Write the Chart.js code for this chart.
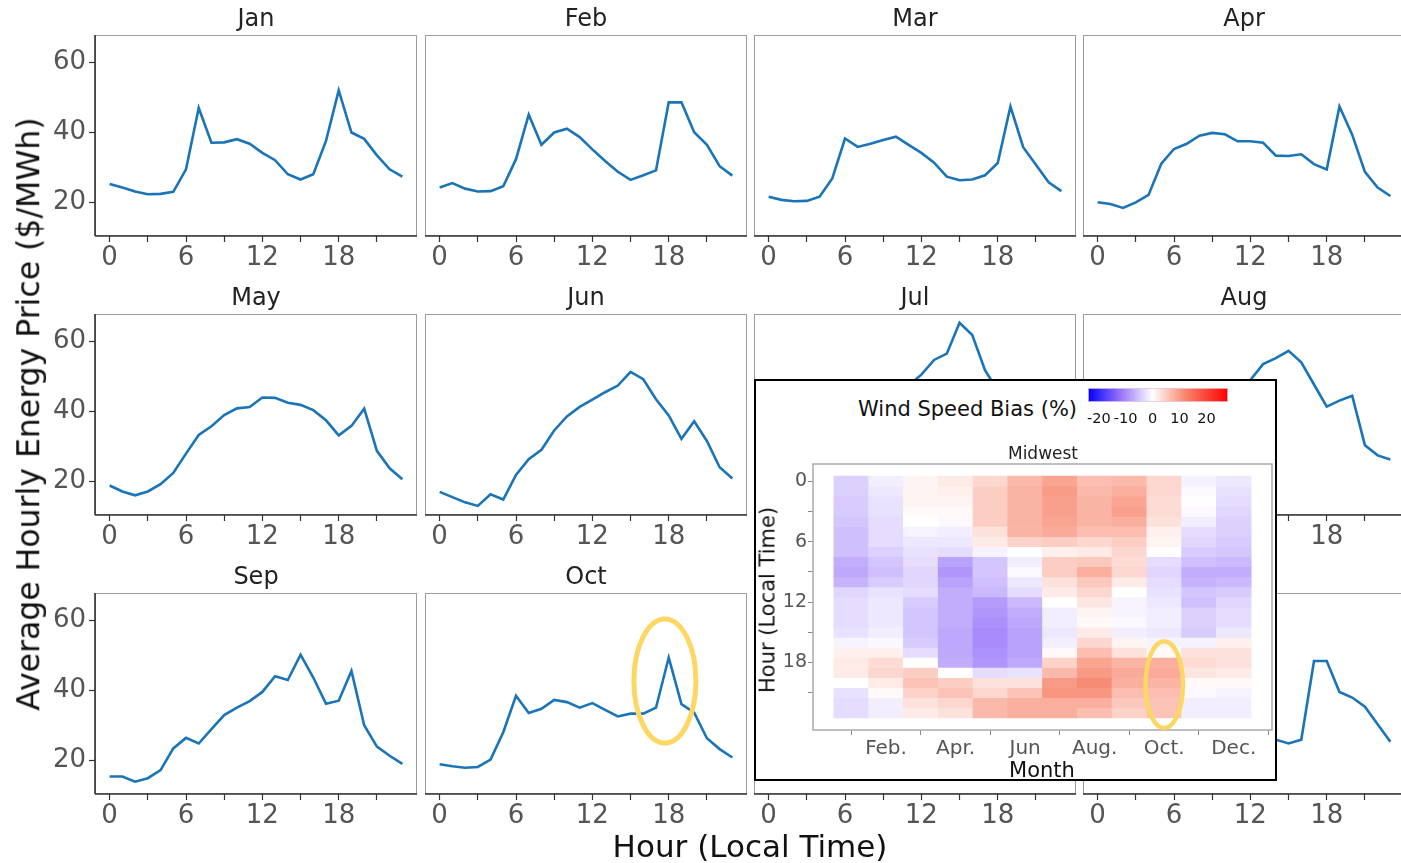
<!DOCTYPE html>
<html><head><meta charset="utf-8">
<script src="https://cdn.jsdelivr.net/npm/chart.js@4.4.1/dist/chart.umd.min.js"></script>
<style>
html,body{margin:0;padding:0;background:#fff;}
body{width:1401px;height:863px;position:relative;overflow:hidden;font-family:"DejaVu Sans",sans-serif;}
canvas{position:absolute;}
.lbl{position:absolute;white-space:nowrap;font-family:"DejaVu Sans",sans-serif;line-height:1;color:#111;}
#inset{position:absolute;left:754px;top:379px;width:519px;height:398px;border:2px solid #000;background:#fff;}
</style></head><body>
<div id="panels"></div>
<div id="inset"></div>
<div id="front"></div>
<div class="lbl" style="left:29px;top:414px;font-size:31.5px;transform:translate(-50%,-50%) rotate(-90deg);">Average Hourly Energy Price ($/MWh)</div>
<div class="lbl" style="left:750px;top:846px;font-size:31px;transform:translate(-50%,-50%);">Hour (Local Time)</div>
<div class="lbl" style="left:858px;top:409px;font-size:21px;transform:translate(0,-50%);">Wind Speed Bias (%)</div>
<div class="lbl" style="left:1043px;top:453px;font-size:17px;color:#222;transform:translate(-50%,-50%);">Midwest</div>
<div class="lbl" style="left:1042px;top:770px;font-size:21px;transform:translate(-50%,-50%);">Month</div>
<div class="lbl" style="left:768px;top:600px;font-size:21px;transform:translate(-50%,-50%) rotate(-90deg);">Hour (Local Time)</div>
<script>
// ---------------- data ----------------
const HOURS = [0,1,2,3,4,5,6,7,8,9,10,11,12,13,14,15,16,17,18,19,20,21,22,23];
const MONTH_TITLES = ['Jan','Feb','Mar','Apr','May','Jun','Jul','Aug','Sep','Oct','Nov','Dec'];
const X_TICKS = [0,3,6,9,12,15,18,21];
const Y_TICKS = [20,40,60];

const jan = [25.3,24.3,23.2,22.4,22.5,23.1,29.5,47.0,37.1,37.2,38.1,36.8,34.2,32.1,28.1,26.6,28.1,37.6,52.0,40.0,38.2,33.5,29.5,27.4];
const feb = [24.3,25.6,24.0,23.2,23.3,24.7,32.4,45.1,36.5,40.0,41.1,38.7,35.2,31.9,28.8,26.5,27.8,29.2,48.6,48.6,40.1,36.5,30.4,27.7];
const mar = [21.7,20.8,20.4,20.5,21.7,26.9,38.3,35.9,36.8,37.9,38.8,36.5,34.2,31.4,27.4,26.4,26.6,27.8,31.3,47.4,35.8,30.8,25.8,23.3];
const apr = [20.1,19.6,18.5,20.1,22.2,31.1,35.3,36.8,39.1,39.9,39.5,37.5,37.5,37.1,33.4,33.3,33.8,31.0,29.5,47.4,39.4,28.8,24.3,21.9];
const may = [18.9,17.2,16.1,17.2,19.3,22.5,28.0,33.3,35.8,39.0,40.9,41.3,44.0,43.9,42.5,41.9,40.4,37.5,33.2,35.9,40.8,28.8,23.8,20.7];
const jun = [17.1,15.6,14.1,13.1,16.4,14.9,21.9,26.4,29.1,34.6,38.6,41.3,43.4,45.5,47.4,51.3,49.2,43.5,38.9,32.2,37.2,31.6,24.1,20.9];
const jul = [22.5,20.5,19.0,18.0,18.0,19.5,24.0,28.5,32.0,36.0,40.0,47.5,50.5,54.7,56.5,65.3,61.8,51.8,46.0,40.0,42.0,35.0,29.0,25.0];
const aug = [21.5,20.0,19.0,18.5,18.5,19.5,23.5,27.5,31.0,35.0,39.0,44.0,49.0,53.5,55.2,57.3,54.0,47.7,41.4,43.1,44.5,30.4,27.5,26.3];
const sep = [15.5,15.5,14.0,15.0,17.3,23.5,26.5,24.9,29.0,33.0,35.1,37.0,39.6,44.1,43.0,50.2,43.7,36.2,37.1,45.6,30.1,24.0,21.4,19.1];
const oct = [19.0,18.4,18.0,18.2,20.3,28.1,38.5,33.6,34.8,37.3,36.7,35.1,36.4,34.5,32.6,33.4,33.4,35.1,49.4,36.1,33.7,26.4,23.3,20.9];
const nov = [21.5,20.5,20.0,19.8,20.5,24.0,32.0,40.0,36.0,35.0,34.5,33.0,32.0,30.5,28.5,27.5,29.0,42.0,45.0,38.0,35.0,30.0,26.0,23.0];
const dec = [25.5,24.5,23.8,23.2,23.2,24.5,30.0,40.0,37.5,36.0,35.0,33.5,31.5,28.5,26.0,24.9,26.0,48.4,48.4,39.6,38.0,35.4,30.4,25.4];
const PRICE_SERIES = [jan,feb,mar,apr,may,jun,jul,aug,sep,oct,nov,dec];

// wind speed bias (%) by month, hour 0..23
const biasJan = [-4,-4,-4.5,-4.5,-5,-5.5,-5.5,-5.5,-7,-7.5,-6.5,-3.5,-3,-3,-3,-2.5,-1,1.5,2,2,0,-2.5,-3,-3];
const biasFeb = [-1.5,-2,-2.5,-2.5,-3,-3,-3,-4,-5,-5.5,-4.5,-2.5,-2,-2,-2,-1.5,-0.5,1.5,3.5,4,2,0.5,-1.5,-1.5];
const biasMar = [1,1,1,0.5,0,-1,-2,-2.5,-3,-3.5,-3.5,-3,-4.5,-5,-5,-5,-4.5,-3,0,5,6,4.5,3,2];
const biasApr = [2,1.5,1,0.5,-0.5,-1.5,-2,-3,-8,-9,-8,-7,-7,-7,-7,-7.5,-7.5,-7.5,-7,0,5,6,4,3];
const biasMay = [4,5,5,5,5,3,2,-1,-5,-5,-5.5,-6,-8.5,-9,-9.5,-10,-10,-9.5,-9,-3,3,4,7,7];
const biasJun = [7,7.5,7.5,7.5,7.5,7.5,4.5,0,-1.5,-0.5,-2,-3,-6,-7,-7.5,-8,-8,-8,-7.5,-2.5,3,6,8,8];
const biasJul = [9,10,9.5,9.5,9,8.5,5,1.5,5,5,3,2,0,-1.5,-1.5,-2,-1.5,0.5,4.5,7,10,10.5,8,8];
const biasAug = [6.5,7,7.5,7.5,7.5,6.5,4,2,5.5,8,5.5,4,2.5,1,0.5,2,4,6.5,9,10,11.5,10.5,8,6.5];
const biasSep = [7,8,9,9.5,8,6.5,5,4,3.5,4,2,0,-1,-1,-0.5,-1.5,1,3,7.5,8.5,8,6.5,5.5,4.5];
const biasOct = [4,4,3.5,3.5,3,1.5,1,0,-3,-3.5,-3,-2.5,-2,-1.5,-1.5,-2,-1,0.5,8,8.5,7.5,6.5,6,6];
const biasNov = [-1,-0.5,0,-0.5,-1.5,-3,-3.5,-4.5,-5.5,-7,-6.5,-5,-5.5,-4,-4,-4.5,-1,3,3.5,2.5,0.5,-0.5,-1.5,-1.5];
const biasDec = [-2,-2.5,-3,-3.5,-4,-4,-4.5,-5,-6,-7,-6,-4.5,-3.5,-3,-3,-2,1.5,3,3,2,0.5,-1,-1.5,-1.5];
const BIAS = [biasJan,biasFeb,biasMar,biasApr,biasMay,biasJun,biasJul,biasAug,biasSep,biasOct,biasNov,biasDec];
const HEAT_X_TICKS = [1,3,5,7,9,11];
const HEAT_X_LABELS = ['Feb.','Apr.','Jun','Aug.','Oct.','Dec.'];
const COLORBAR_TICKS = [-20,-10,0,10,20];

// ---------------- style / layout ----------------
const FONT = 'DejaVu Sans';
const COL_X = [95,425,754,1083];
const ROW_Y = [35,314,593];
const PW = 322, PH = 201;
const LINE_COLOR = '#1a74b8';
const HILITE = 'rgb(253,215,100)';
const CMAP = [[-24,[0,0,255]],[-12,[150,115,250]],[0,[255,255,255]],[12,[247,135,110]],[28,[255,0,0]]];
function biasColor(v){
  if (v <= CMAP[0][0]) return 'rgb('+CMAP[0][1].join(',')+')';
  for (let i=1;i<CMAP.length;i++){
    if (v <= CMAP[i][0]){
      const [a,ca]=CMAP[i-1],[b,cb]=CMAP[i]; const t=(v-a)/(b-a);
      return 'rgb('+ca.map((c,k)=>Math.round(c+(cb[k]-c)*t)).join(',')+')';
    }
  }
  return 'rgb('+CMAP[CMAP.length-1][1].join(',')+')';
}
Chart.defaults.font.family = FONT;
function noPad(s){ s.paddingLeft=0; s.paddingRight=0; s.paddingTop=0; s.paddingBottom=0; }

const panelPlugin = {
  id:'panel',
  afterDraw(c,a,o){
    const ctx=c.ctx, ca=c.chartArea;
    ctx.save();
    ctx.strokeStyle='#9c9c9c'; ctx.lineWidth=1;
    ctx.strokeRect(ca.left+0.5,ca.top+0.5,ca.width-1,ca.height-1);
    ctx.strokeStyle='#333'; ctx.lineWidth=1.6;
    ctx.beginPath(); ctx.moveTo(ca.left,ca.bottom); ctx.lineTo(ca.right,ca.bottom); ctx.stroke();
    if (o.darkLeft){ ctx.beginPath(); ctx.moveTo(ca.left,ca.top); ctx.lineTo(ca.left,ca.bottom); ctx.stroke(); }
    if (o.title){
      ctx.fillStyle='#222'; ctx.font='24px "'+FONT+'"'; ctx.textAlign='center'; ctx.textBaseline='alphabetic';
      ctx.fillText(o.title,(ca.left+ca.right)/2,ca.top-9);
    }
    if (o.ellipse){
      const e=o.ellipse, xs=c.scales.x, ys=c.scales.y;
      ctx.strokeStyle=HILITE; ctx.lineWidth=e.w;
      ctx.beginPath(); ctx.ellipse(xs.getPixelForValue(e.x),ys.getPixelForValue(e.y),e.rx,e.ry,0,0,Math.PI*2); ctx.stroke();
    }
    ctx.restore();
  }
};

function addCanvas(parent,left,top,w,h){
  const cv=document.createElement('canvas');
  cv.width=w; cv.height=h; cv.style.left=left+'px'; cv.style.top=top+'px';
  cv.style.width=w+'px'; cv.style.height=h+'px';
  document.getElementById(parent).appendChild(cv);
  return cv;
}

// ---------------- line panels ----------------
PRICE_SERIES.forEach((series,i)=>{
  const col=i%4,row=Math.floor(i/4);
  const L=70,T=35,R=10,B=45;
  const cv=addCanvas('panels',COL_X[col]-L,ROW_Y[row]-T,PW+L+R,PH+T+B);
  const showY = col===0;
  new Chart(cv,{
    type:'line',
    data:{datasets:[{data:HOURS.map((h,k)=>({x:h,y:series[k]})),borderColor:LINE_COLOR,borderWidth:2.6,pointRadius:0,tension:0,fill:false}]},
    options:{
      responsive:false,animation:false,events:[],
      layout:{padding:{top:T,right:R,left:0,bottom:0},autoPadding:false},
      plugins:{legend:{display:false},tooltip:{enabled:false},
        panel:{title:MONTH_TITLES[i],darkLeft:showY,ellipse:(i===9?{x:17.7,y:42.7,rx:31,ry:62,w:5}:null)}},
      scales:{
        x:{type:'linear',min:-1.15,max:24.15,
          afterBuildTicks:s=>{s.ticks=X_TICKS.map(v=>({value:v}));},
          afterFit:s=>{s.height=B; noPad(s);},
          grid:{display:true,drawOnChartArea:false,drawTicks:true,tickLength:6,tickColor:'#333',tickWidth:1.2},
          border:{display:false},
          ticks:{autoSkip:false,maxRotation:0,padding:1,color:'#555',font:{family:FONT,size:26},callback:v=>(v%6===0?String(v):'')}},
        y:{type:'linear',min:10.5,max:67.8,
          afterBuildTicks:s=>{s.ticks=Y_TICKS.map(v=>({value:v}));},
          afterFit:s=>{s.width=L; noPad(s);},
          grid:{display:showY,drawOnChartArea:false,drawTicks:true,tickLength:6,tickColor:'#333',tickWidth:1.2},
          border:{display:false},
          ticks:{display:showY,padding:3,color:'#555',font:{family:FONT,size:26}}}
      }
    },
    plugins:[panelPlugin]
  });
});

// ---------------- heatmap inset ----------------
const heatPlugin = {
  id:'heatbox',
  afterDraw(c,a,o){
    const ctx=c.ctx, ca=c.chartArea;
    ctx.save();
    ctx.strokeStyle='#aaa'; ctx.lineWidth=1.5;
    ctx.strokeRect(ca.left,ca.top,ca.width,ca.height);
    const e=o.ellipse, xs=c.scales.x, ys=c.scales.y;
    ctx.strokeStyle=HILITE; ctx.lineWidth=e.w;
    ctx.beginPath(); ctx.ellipse(xs.getPixelForValue(e.x),ys.getPixelForValue(e.y),e.rx,e.ry,0,0,Math.PI*2); ctx.stroke();
    ctx.restore();
  }
};
{
  const cv=addCanvas('front',756,440,519,339);
  new Chart(cv,{
    type:'bar',
    data:{datasets:HOURS.map(h=>({
      data:BIAS.map((arr,m)=>({x:m,y:[h-0.5,h+0.5]})),
      backgroundColor:BIAS.map(arr=>biasColor(arr[h])),
      borderWidth:0,barPercentage:1,categoryPercentage:1,grouped:false
    }))},
    options:{
      responsive:false,animation:false,events:[],
      layout:{padding:{top:24,right:3,left:0,bottom:0},autoPadding:false},
      plugins:{legend:{display:false},tooltip:{enabled:false},heatbox:{ellipse:{x:9,y:20.2,rx:18.7,ry:43.4,w:4.5}}},
      scales:{
        x:{type:'linear',min:-1.1,max:12.1,offset:false,
          afterBuildTicks:s=>{s.ticks=HEAT_X_TICKS.map(v=>({value:v}));},
          afterFit:s=>{s.height=49; noPad(s);},
          grid:{display:true,drawOnChartArea:false,drawTicks:true,tickLength:5,tickColor:'#888'},
          border:{display:false},
          ticks:{autoSkip:false,maxRotation:0,padding:2,color:'#555',font:{family:FONT,size:20},
            callback:v=>{const k=HEAT_X_TICKS.indexOf(v);return k>=0?HEAT_X_LABELS[k]:'';}}},
        y:{type:'linear',min:-1.7,max:24.7,reverse:true,
          afterBuildTicks:s=>{s.ticks=X_TICKS.map(v=>({value:v}));},
          afterFit:s=>{s.width=57; noPad(s);},
          grid:{display:true,drawOnChartArea:false,drawTicks:true,tickLength:5,tickColor:'#888'},
          border:{display:false},
          ticks:{padding:1,color:'#555',font:{family:FONT,size:19},callback:v=>(v%6===0?String(v):'')}}
      }
    },
    plugins:[heatPlugin]
  });
}

// ---------------- colorbar ----------------
const cbarPlugin = {
  id:'cbar',
  beforeDatasetsDraw(c){
    const ctx=c.ctx, ca=c.chartArea, xs=c.scales.x;
    const g=ctx.createLinearGradient(ca.left,0,ca.right,0);
    CMAP.forEach(([v,col])=>{
      const t=Math.min(1,Math.max(0,(xs.getPixelForValue(v)-ca.left)/(ca.right-ca.left)));
      g.addColorStop(t,'rgb('+col.join(',')+')');
    });
    ctx.save(); ctx.fillStyle=g; ctx.fillRect(ca.left,ca.top,ca.width,ca.height);
    ctx.strokeStyle='rgba(230,200,220,0.8)'; ctx.lineWidth=1; ctx.strokeRect(ca.left+0.5,ca.top+0.5,ca.width-1,ca.height-1);
    ctx.restore();
  }
};
{
  const cv=addCanvas('front',1080,384,160,46);
  new Chart(cv,{
    type:'scatter',
    data:{datasets:[{data:[]}]},
    options:{
      responsive:false,animation:false,events:[],
      layout:{padding:{top:4,right:12,left:8,bottom:0},autoPadding:false},
      plugins:{legend:{display:false},tooltip:{enabled:false}},
      scales:{
        x:{type:'linear',min:-24,max:28,
          afterBuildTicks:s=>{s.ticks=COLORBAR_TICKS.map(v=>({value:v}));},
          afterFit:s=>{s.height=28; noPad(s);},
          grid:{display:false,drawTicks:false},border:{display:false},
          ticks:{autoSkip:false,maxRotation:0,padding:9,color:'#111',font:{family:FONT,size:14.5},callback:v=>String(v)}},
        y:{display:false,min:0,max:1}
      }
    },
    plugins:[cbarPlugin]
  });
}
</script>
</body></html>
